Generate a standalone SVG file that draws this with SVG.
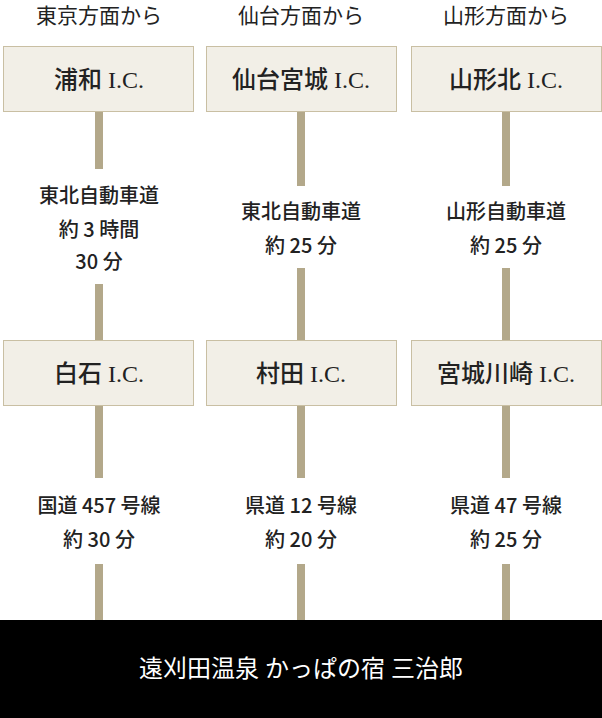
<svg xmlns="http://www.w3.org/2000/svg" width="602" height="718" viewBox="0 0 602 718">
<style>
.h{font-family:"Liberation Serif","Noto Sans CJK JP",serif;font-size:21px;fill:#222;text-anchor:middle}
.b{fill:#f2efe7;stroke:#c9bfa3;stroke-width:1}
.bt{font-family:"Liberation Serif","Noto Sans CJK JP",serif;font-size:24px;font-weight:500;fill:#222;text-anchor:middle}
.r{font-family:"Noto Sans CJK JP",sans-serif;font-size:20px;font-weight:500;fill:#222;text-anchor:middle}
.bar{fill:#b3a88a}
</style>
<g id="connectors">
<rect class="bar" x="95" y="112" width="8" height="57"/>
<rect class="bar" x="95" y="284" width="8" height="56"/>
<rect class="bar" x="95" y="405" width="8" height="73"/>
<rect class="bar" x="95" y="564" width="8" height="56"/>
<rect class="bar" x="297" y="112" width="8" height="74"/>
<rect class="bar" x="297" y="268" width="8" height="72"/>
<rect class="bar" x="297" y="405" width="8" height="73"/>
<rect class="bar" x="297" y="564" width="8" height="56"/>
<rect class="bar" x="502" y="112" width="8" height="74"/>
<rect class="bar" x="502" y="268" width="8" height="72"/>
<rect class="bar" x="502" y="405" width="8" height="73"/>
<rect class="bar" x="502" y="564" width="8" height="56"/>
</g>
<g id="headers">
<text class="h" x="99" y="23">東京方面から</text>
<text class="h" x="301" y="23">仙台方面から</text>
<text class="h" x="506" y="23">山形方面から</text>
</g>
<g id="n1"><rect class="b" x="3.5" y="46.5" width="190" height="65"/><text class="bt" x="99" y="88">浦和 I.C.</text></g>
<g id="n2"><rect class="b" x="206.5" y="46.5" width="190" height="65"/><text class="bt" x="301" y="88">仙台宮城 I.C.</text></g>
<g id="n3"><rect class="b" x="411.5" y="46.5" width="190" height="65"/><text class="bt" x="506" y="88">山形北 I.C.</text></g>
<g id="r1"><text class="r" x="99" y="203">東北自動車道</text><text class="r" x="99" y="237">約 3 時間</text><text class="r" x="99" y="269">30 分</text></g>
<g id="r2"><text class="r" x="301" y="219">東北自動車道</text><text class="r" x="301" y="253">約 25 分</text></g>
<g id="r3"><text class="r" x="506" y="219">山形自動車道</text><text class="r" x="506" y="253">約 25 分</text></g>
<g id="n4"><rect class="b" x="3.5" y="340.5" width="190" height="65"/><text class="bt" x="99" y="382">白石 I.C.</text></g>
<g id="n5"><rect class="b" x="206.5" y="340.5" width="190" height="65"/><text class="bt" x="301" y="382">村田 I.C.</text></g>
<g id="n6"><rect class="b" x="411.5" y="340.5" width="190" height="65"/><text class="bt" x="506" y="382">宮城川崎 I.C.</text></g>
<g id="r4"><text class="r" x="99" y="513">国道 457 号線</text><text class="r" x="99" y="547">約 30 分</text></g>
<g id="r5"><text class="r" x="301" y="513">県道 12 号線</text><text class="r" x="301" y="547">約 20 分</text></g>
<g id="r6"><text class="r" x="506" y="513">県道 47 号線</text><text class="r" x="506" y="547">約 25 分</text></g>
<g id="dest"><rect x="0" y="620" width="602" height="98" fill="#000"/><text x="301" y="677" font-family="'Liberation Serif','Noto Sans CJK JP',serif" font-size="24" fill="#fff" text-anchor="middle">遠刈田温泉 かっぱの宿 三治郎</text></g>
</svg>
